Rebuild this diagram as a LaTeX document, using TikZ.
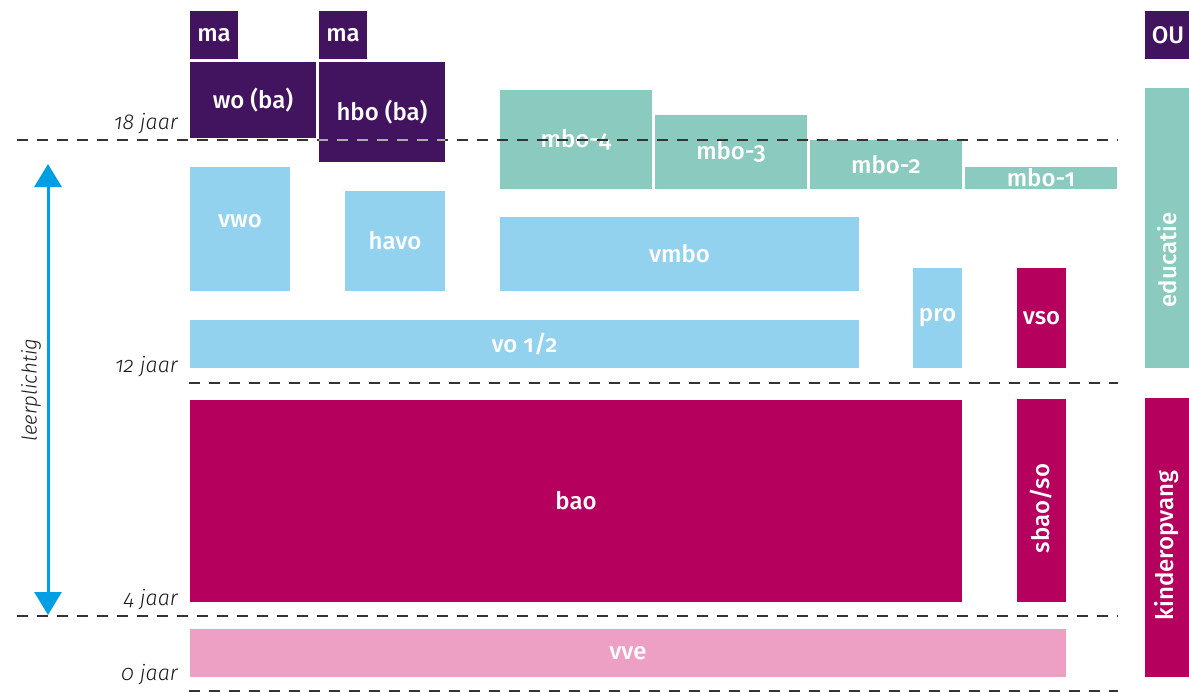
\documentclass[tikz,border=0pt]{standalone}
\usepackage{fontspec}
\setmainfont{Fira Sans}[Numbers=OldStyle]
\newfontfamily\blokfont{Fira Sans Medium}[Numbers=OldStyle]
\newfontfamily\leeftijdfont{Fira Sans Light}[Numbers=OldStyle,
  ItalicFont={Fira Sans Light Italic}]
\usetikzlibrary{arrows.meta}

\definecolor{paars}{HTML}{42145F}
\definecolor{lichtblauw}{HTML}{93D2EF}
\definecolor{mint}{HTML}{8BCABE}
\definecolor{robijn}{HTML}{B5005E}
\definecolor{roze}{HTML}{EEA0C4}
\definecolor{hemel}{HTML}{009FE3}
\definecolor{streep}{HTML}{333333}

\tikzset{
  blok/.style={draw=none, inner sep=0pt, outer sep=0pt, text=white,
    font=\blokfont\fontsize{24}{28}\selectfont},
  blokpaars/.style={blok, fill=paars},
  blokblauw/.style={blok, fill=lichtblauw},
  blokmint/.style={blok, fill=mint},
  blokrood/.style={blok, fill=robijn},
  blokroze/.style={blok, fill=roze},
  leeftijd/.style={anchor=base east, inner sep=0pt,
    font=\leeftijdfont\itshape\fontsize{21.5}{26}\selectfont, text=black!90},
  grens/.style={draw=streep, line width=1.3pt, dash pattern=on 11pt off 9pt},
}

% \vak{name}{style}{x1}{y1}{x2}{y2}{text}: a filled block between two corners
\newcommand\vak[7]{%
  \pgfmathsetmacro\vakbreed{#5-#3}%
  \pgfmathsetmacro\vakhoog{#6-#4}%
  \node[#2, minimum width=\vakbreed pt, minimum height=\vakhoog pt]
    (#1) at ({(#3+#5)/2},{(#4+#6)/2}) {#7};}

\begin{document}
\begin{tikzpicture}[x=1pt,y=-1pt]
\useasboundingbox (0,0) rectangle (1189,693);

% hoger onderwijs
\vak{ma1}{blokpaars}{190}{11}{238}{59}{ma}
\vak{ma2}{blokpaars}{319}{11}{367}{59}{ma}
\vak{wo}{blokpaars}{190}{62}{316}{138}{wo (ba)}
\vak{hbo}{blokpaars}{319}{62}{445}{162}{hbo (ba)}

% middelbaar beroepsonderwijs
\vak{mbo4}{blokmint}{500}{90}{652}{189}{mbo-4}
\vak{mbo3}{blokmint}{655}{115}{807}{189}{mbo-3}
\vak{mbo2}{blokmint}{810}{140}{962}{189}{mbo-2}
\vak{mbo1}{blokmint}{965}{167}{1117}{189}{mbo-1}

% voortgezet onderwijs
\vak{vwo}{blokblauw}{190}{167}{290}{291}{}
\node[blok] (vwotekst) at ([yshift=8pt]vwo.center) {vwo};
\vak{havo}{blokblauw}{345}{191}{445}{291}{havo}
\vak{vmbo}{blokblauw}{500}{217}{859}{291}{vmbo}
\vak{vo}{blokblauw}{190}{320}{859}{368}{vo 1/2}
\vak{pro}{blokblauw}{913}{268}{962}{368}{pro}
\vak{vso}{blokrood}{1017}{268}{1066}{368}{vso}

% primair onderwijs en voorschool
\vak{bao}{blokrood}{190}{400}{962}{602}{bao}
\vak{sbao}{blokrood}{1017}{399}{1066}{602}{}
\node[blok, rotate=90] (sbaotekst) at ([yshift=-8pt]sbao.center) {sbao/so};
\vak{vve}{blokroze}{190}{629}{1066}{677}{vve}

% rechterkolom
\vak{ou}{blokpaars}{1145}{11}{1189}{59}{}
\node[blok] (outekst) at ([xshift=1pt]ou.center) {OU};
\vak{edu}{blokmint}{1145}{88}{1189}{368}{}
\node[blok, rotate=90] (edutekst) at ([yshift=-32pt]edu.center) {educatie};
\vak{ko}{blokrood}{1145}{398}{1189}{677}{}
\node[blok, rotate=90] (kotekst) at ([yshift=-8pt]ko.center) {kinderopvang};

% leeftijden
\node[leeftijd] (j18) at (178,129) {18 jaar};
\node[leeftijd] (j12) at (178,372) {12 jaar};
\node[leeftijd] (j4) at (178,605) {4 jaar};
\node[leeftijd] (j0) at (178,680) {0 jaar};

% leerplicht
\coordinate (lpboven) at (48,164);
\coordinate (lponder) at (48,615);
\draw[hemel, line width=3pt,
  {Triangle[width=27pt,length=23pt]}-{Triangle[width=27pt,length=23pt]}]
  (lponder) -- (lpboven);
\node[rotate=90, inner sep=0pt,
  font=\leeftijdfont\itshape\fontsize{20.5}{24}\selectfont,
  text=black!90] (lp) at (31,390) {leerplichtig};

% grenslijnen
\coordinate (g18a) at (17,140);  \coordinate (g18b) at (1118,140);
\coordinate (g12a) at (189,383); \coordinate (g12b) at (1118,383);
\coordinate (g4a) at (17,616);   \coordinate (g4b) at (1118,616);
\coordinate (g0a) at (189,691);  \coordinate (g0b) at (1118,691);
\draw[grens] (g18a) -- (g18b);
\begin{scope}
  \clip (hbo.north west) rectangle (hbo.south east);
  \draw[grens, draw=white, opacity=0.6] (g18a) -- (g18b);
\end{scope}
\draw[grens] (g12a) -- (g12b);
\draw[grens] (g4a) -- (g4b);
\draw[grens] (g0a) -- (g0b);
\end{tikzpicture}
\end{document}
